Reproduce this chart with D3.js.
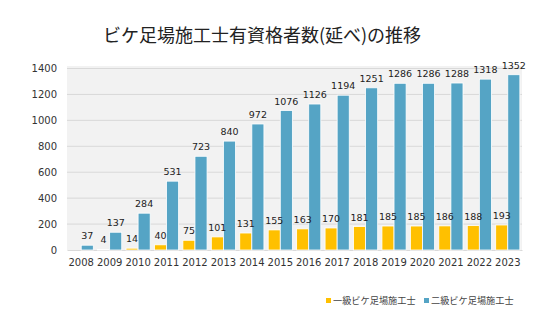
<!DOCTYPE html>
<html>
<head>
<meta charset="utf-8">
<script src="https://cdn.jsdelivr.net/npm/d3@7"></script>
<style>
  body { margin: 0; background: #fff; }
  svg { display: block; }
</style>
</head>
<body>
<div id="chart"></div>
<script>
// chart data
const years = ["2008","2009","2010","2011","2012","2013","2014","2015","2016","2017","2018","2019","2020","2021","2022","2023"];
const firstClass = [null, 4, 14, 40, 75, 101, 131, 155, 163, 170, 181, 185, 185, 186, 188, 193];
const secondClass = [37, 137, 284, 531, 723, 840, 972, 1076, 1126, 1194, 1251, 1286, 1286, 1288, 1318, 1352];
const seriesNames = ["一級ビケ足場施工士", "二級ビケ足場施工士"];
const yTicks = [0, 200, 400, 600, 800, 1000, 1200, 1400];

const width = 556;
const height = 330;
const margin = {top: 66, right: 34, bottom: 80, left: 67};
const colors = ["#ffc000", "#55a4c5"];
const numFont = "DejaVu Sans, Verdana, sans-serif";
const jpFont = "'Noto Sans CJK JP', sans-serif";

const svg = d3.select("#chart").append("svg")
    .attr("width", width)
    .attr("height", height);

// title
svg.append("text")
    .attr("x", 262)
    .attr("y", 42)
    .attr("text-anchor", "middle")
    .attr("font-family", jpFont)
    .attr("font-size", 18)
    .attr("fill", "#222")
    .text("ビケ足場施工士有資格者数(延べ)の推移");

const x = d3.scaleBand().domain(years)
    .range([margin.left, width - margin.right])
    .paddingInner(0.15).paddingOuter(0.075);
const xSub = d3.scaleBand().domain([0, 1]).range([0, x.bandwidth()]).padding(0);
const y = d3.scaleLinear().domain([0, 1400])
    .range([height - margin.bottom, 68.5]);

// plot background
svg.append("rect")
    .attr("x", margin.left)
    .attr("y", margin.top)
    .attr("width", width - margin.left - margin.right)
    .attr("height", y(0) - margin.top)
    .attr("fill", "#f2f2f2");

// gridlines
svg.append("g")
    .selectAll("line")
    .data(yTicks.filter(d => d > 0))
    .enter().append("line")
    .attr("x1", margin.left)
    .attr("x2", width - margin.right)
    .attr("y1", d => y(d))
    .attr("y2", d => y(d))
    .attr("stroke", "#d9d9d9")
    .attr("stroke-width", 1);

// y axis labels
const yAxis = svg.append("g")
    .attr("transform", `translate(${margin.left},0)`)
    .call(d3.axisLeft(y).tickValues(yTicks).tickFormat(d3.format("d")).tickSize(0).tickPadding(10));
yAxis.select(".domain").remove();
yAxis.selectAll("text")
    .attr("font-family", numFont)
    .attr("font-size", 10)
    .attr("fill", "#333");

// x axis labels
const xAxis = svg.append("g")
    .attr("transform", `translate(0,${y(0)})`)
    .call(d3.axisBottom(x).tickSize(0).tickPadding(9));
xAxis.select(".domain").attr("stroke", "#d9d9d9");
xAxis.selectAll("text")
    .attr("font-family", numFont)
    .attr("font-size", 10)
    .attr("fill", "#333");

const series = [firstClass, secondClass];
const items = series.map(vals =>
    years.map((yr, i) => ({yr, v: vals[i]})).filter(d => d.v !== null));

// bars first, then all labels on top
series.forEach((vals, si) => {
    svg.append("g")
        .selectAll("rect")
        .data(items[si])
        .enter().append("rect")
        .attr("x", d => x(d.yr) + xSub(si))
        .attr("y", d => y(d.v))
        .attr("width", xSub.bandwidth())
        .attr("height", d => y(0) - y(d.v))
        .attr("fill", colors[si])
        .attr("stroke", "#fff")
        .attr("stroke-width", 0.8);
});
series.forEach((vals, si) => {
    svg.append("g")
        .selectAll("text")
        .data(items[si])
        .enter().append("text")
        .attr("x", d => x(d.yr) + xSub(si) + xSub.bandwidth() / 2)
        .attr("y", d => y(d.v) - 6)
        .attr("text-anchor", "middle")
        .attr("font-family", numFont)
        .attr("font-size", 9.5)
        .attr("fill", "#222")
        .text(d => d.v);
});

// legend
const legendX = [326, 424];
seriesNames.forEach((name, i) => {
    svg.append("rect")
        .attr("x", legendX[i])
        .attr("y", 298)
        .attr("width", 5)
        .attr("height", 5)
        .attr("fill", colors[i]);
    svg.append("text")
        .attr("x", legendX[i] + 7)
        .attr("y", 304)
        .attr("font-family", jpFont)
        .attr("font-size", 9.2)
        .attr("fill", "#444")
        .text(name);
});
</script>
</body>
</html>
